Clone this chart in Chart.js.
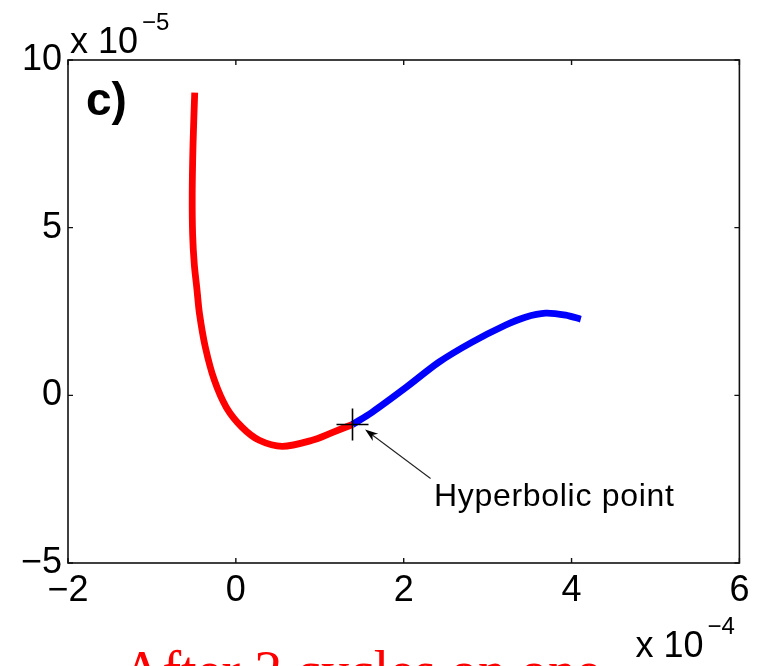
<!DOCTYPE html>
<html>
<head>
<meta charset="utf-8">
<title>Hyperbolic point</title>
<script src="https://cdn.jsdelivr.net/npm/chart.js@4.4.0/dist/chart.umd.min.js"></script>
<style>
  html, body { margin: 0; padding: 0; background: #fff; }
  #wrap { width: 757px; height: 666px; overflow: hidden; }
</style>
</head>
<body>
<div id="wrap"><canvas id="chart" width="757" height="666"></canvas></div>
<script>
// --- trajectory data (x in units of 1e-4, y in units of 1e-5) ---
// incoming branch (red), ends at the hyperbolic point
const redX = [-0.49, -0.51, -0.52, -0.515, -0.495, -0.465, -0.434, -0.363, -0.256, -0.113, 0.077, 0.279, 0.553, 0.910, 1.147, 1.39];
const redY = [9.03, 7.5, 6.0, 4.8, 3.9, 3.2, 2.45, 1.43, 0.45, -0.36, -0.96, -1.34, -1.52, -1.34, -1.11, -0.87];

// outgoing branch (blue), starts at the hyperbolic point
const blueX = [1.39, 1.62, 2.03, 2.42, 2.81, 3.21, 3.45, 3.69, 3.93, 4.11];
const blueY = [-0.87, -0.51, 0.24, 0.99, 1.58, 2.09, 2.33, 2.45, 2.39, 2.27];

// hyperbolic point marker
const hypX = [1.39];
const hypY = [-0.87];

// axis ticks
const xTicks = [-2, 0, 2, 4, 6];
const yTicks = [-5, 0, 5, 10];

// annotation arrow (data coords): tail near the label, tip by the point
const arrowTail = [2.32, -2.48];
const arrowTip = [1.54, -1.02];
const labelAt = [2.36, -3.29];

const toPoints = (xs, ys) => xs.map((x, i) => ({ x: x, y: ys[i] }));
const minus = v => (v < 0 ? '\u2212' + Math.abs(v) : String(v));

const FONT = "'Liberation Sans', Arial, Helvetica, sans-serif";
Chart.defaults.font.family = FONT;
Chart.defaults.color = '#000';

// box, inward ticks, exponents, panel letter, arrow + caption
const figureDecor = {
    id: 'figureDecor',
    afterDraw(chart) {
        const { ctx, chartArea: a, scales } = chart;
        const xs = scales.x, ys = scales.y;
        ctx.save();

        // axes box
        ctx.strokeStyle = '#111';
        ctx.lineWidth = 1.6;
        ctx.strokeRect(a.left, a.top, a.right - a.left, a.bottom - a.top);

        // inward tick marks on all four sides
        const tl = 5;
        ctx.lineWidth = 1.4;
        ctx.beginPath();
        xs.ticks.forEach(t => {
            const px = xs.getPixelForValue(t.value);
            ctx.moveTo(px, a.bottom); ctx.lineTo(px, a.bottom - tl);
            ctx.moveTo(px, a.top); ctx.lineTo(px, a.top + tl);
        });
        ys.ticks.forEach(t => {
            const py = ys.getPixelForValue(t.value);
            ctx.moveTo(a.left, py); ctx.lineTo(a.left + tl, py);
            ctx.moveTo(a.right, py); ctx.lineTo(a.right - tl, py);
        });
        ctx.stroke();

        // exponent labels
        ctx.fillStyle = '#000';
        ctx.textBaseline = 'alphabetic';
        ctx.textAlign = 'left';
        const expLabel = (x, y, exp) => {
            ctx.font = '36px ' + FONT;
            ctx.fillText('x 10', x, y);
            const w = ctx.measureText('x 10').width;
            ctx.font = '24px ' + FONT;
            ctx.fillText(exp, x + w + 4, y - 23);
        };
        expLabel(a.left + 2, a.top - 7, '\u22125');
        expLabel(a.right - 104, a.bottom + 94, '\u22124');

        // panel letter
        ctx.font = 'bold 46px ' + FONT;
        ctx.fillText('c)', a.left + 18, a.top + 55);

        // annotation arrow
        const tx = xs.getPixelForValue(arrowTail[0]), ty = ys.getPixelForValue(arrowTail[1]);
        const hx = xs.getPixelForValue(arrowTip[0]), hy = ys.getPixelForValue(arrowTip[1]);
        const ang = Math.atan2(hy - ty, hx - tx);
        const len = 13, half = 4.5;
        ctx.strokeStyle = '#222';
        ctx.lineWidth = 1.1;
        ctx.beginPath();
        ctx.moveTo(tx, ty);
        ctx.lineTo(hx - Math.cos(ang) * len * 0.6, hy - Math.sin(ang) * len * 0.6);
        ctx.stroke();
        const bx = hx - Math.cos(ang) * len, by = hy - Math.sin(ang) * len;
        ctx.fillStyle = '#000';
        ctx.beginPath();
        ctx.moveTo(hx, hy);
        ctx.lineTo(bx - Math.sin(ang) * half, by + Math.cos(ang) * half);
        ctx.lineTo(hx - Math.cos(ang) * len * 0.7, hy - Math.sin(ang) * len * 0.7);
        ctx.lineTo(bx + Math.sin(ang) * half, by - Math.cos(ang) * half);
        ctx.closePath();
        ctx.fill();

        // caption next to the arrow
        ctx.font = '32px ' + FONT;
        ctx.letterSpacing = '0.7px';
        ctx.fillText('Hyperbolic point', xs.getPixelForValue(labelAt[0]), ys.getPixelForValue(labelAt[1]));
        ctx.letterSpacing = '0px';

        // figure caption below (runs off the bottom edge)
        ctx.font = '56px "Liberation Serif", "Times New Roman", serif';
        ctx.fillStyle = '#ff0000';
        ctx.fillText('After 2 cycles on one', 122, 690);

        ctx.restore();
    }
};

new Chart(document.getElementById('chart'), {
    type: 'scatter',
    data: {
        datasets: [
            {
                label: 'hyperbolic point',
                data: toPoints(hypX, hypY),
                pointStyle: 'cross',
                pointRadius: 16,
                pointHoverRadius: 16,
                borderColor: '#000',
                borderWidth: 1.6,
                showLine: false,
                order: 0
            },
            {
                label: 'outgoing',
                data: toPoints(blueX, blueY),
                showLine: true,
                borderColor: '#0000ff',
                borderWidth: 6.8,
                pointRadius: 0,
                tension: 0.3,
                order: 1
            },
            {
                label: 'incoming',
                data: toPoints(redX, redY),
                showLine: true,
                borderColor: '#ff0000',
                borderWidth: 6.8,
                pointRadius: 0,
                tension: 0.3,
                order: 2
            }
        ]
    },
    options: {
        responsive: false,
        animation: false,
        events: [],
        layout: { padding: { left: 0, top: 60, right: 16, bottom: 63 } },
        plugins: {
            legend: { display: false },
            tooltip: { enabled: false }
        },
        scales: {
            x: {
                type: 'linear',
                min: -2,
                max: 6,
                grid: { display: false, drawTicks: false },
                border: { display: false },
                afterBuildTicks: s => { s.ticks = xTicks.map(v => ({ value: v })); },
                afterFit: s => { s.height = 40; },
                ticks: {
                    padding: 6,
                    font: { size: 36 },
                    color: '#000',
                    maxRotation: 0,
                    callback: v => minus(v)
                }
            },
            y: {
                type: 'linear',
                min: -5,
                max: 10,
                grid: { display: false, drawTicks: false },
                border: { display: false },
                afterBuildTicks: s => { s.ticks = yTicks.map(v => ({ value: v })); },
                afterFit: s => { s.width = 68; },
                ticks: {
                    padding: 6,
                    font: { size: 36 },
                    color: '#000',
                    callback: v => minus(v)
                }
            }
        }
    },
    plugins: [figureDecor]
});
</script>
</body>
</html>
